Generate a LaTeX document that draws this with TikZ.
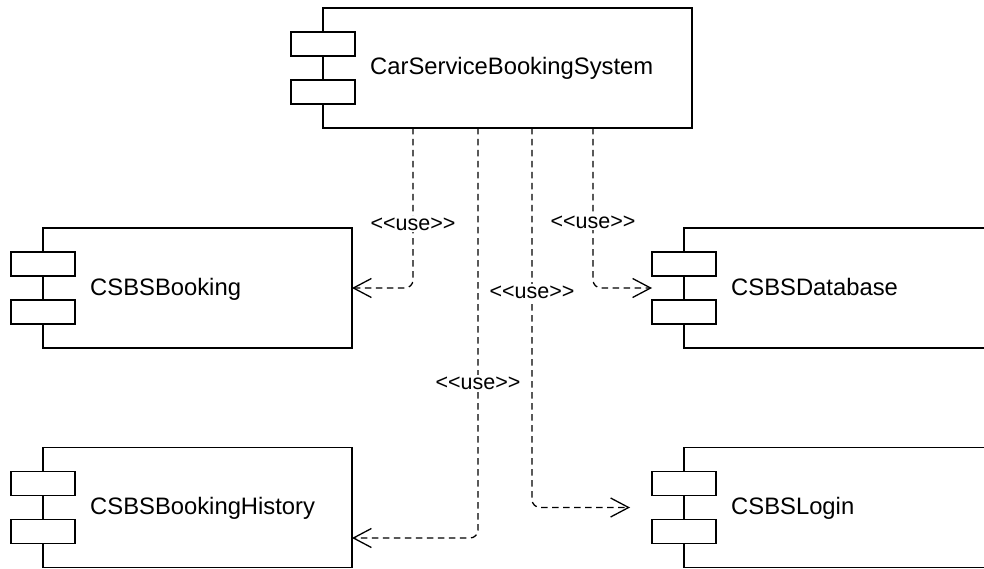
\documentclass[tikz,border=0pt]{standalone}
\usepackage{fontspec}
\setmainfont{Liberation Sans}
\usetikzlibrary{calc,arrows.meta}

\tikzset{
  compbox/.style={draw, line width=1.5pt, minimum width=309pt, minimum height=120pt,
    inner sep=0pt, outer sep=0pt},
  portbox/.style={draw, fill=white, line width=1.5pt, minimum width=64pt,
    minimum height=24pt, inner sep=0pt, outer sep=0pt},
  complabel/.style={anchor=base west, inner sep=0pt, font=\fontsize{23.8}{28}\selectfont},
  uselabel/.style={fill=white, inner sep=1.5pt, font=\fontsize{21.5}{24}\selectfont},
  dep/.style={draw, line width=1.3pt, dash pattern=on 6.5pt off 4.5pt,
    rounded corners=8pt, -{Straight Barb[length=18pt,width=19pt,line width=1.3pt]}},
}

% a UML component: box, two ports on the left edge, name
\newcommand{\umlcomp}[5][309pt]{%
  \node[compbox, minimum width=#1] (#2) at (#3) {};
  \node[portbox] (#2-p1) at ($(#2.west)+(0,-24)$) {};
  \node[portbox] (#2-p2) at ($(#2.west)+(0,24)$) {};
  \node[complabel] (#2-name) at ($(#2.west)+(47,7)$) {#5};
}

\begin{document}
\begin{tikzpicture}[x=1pt, y=-1pt]
  \useasboundingbox (0,0) rectangle (984,569);
  \clip (0,0) rectangle (984,569);

  \umlcomp[369pt]{sys}{507.5,68}{}{CarServiceBookingSystem}
  \umlcomp{booking}{197.5,288}{}{CSBSBooking}
  \umlcomp{history}{197.5,507.5}{}{CSBSBookingHistory}
  \umlcomp{db}{838.5,288}{}{CSBSDatabase}
  \umlcomp{login}{838.5,507.5}{}{CSBSLogin}

  \coordinate (loginin) at ($(login.west)+(-54,0)$);

  % dependencies
  \draw[dep] ($(sys.south)+(-94.5,0)$) |- (booking.east);
  \draw[dep] ($(sys.south)+(-29.5,0)$) |- ($(history.east)+(0,30.5)$);
  \draw[dep] ($(sys.south)+(24.5,0)$) |- (loginin);
  \draw[dep] ($(sys.south)+(85.5,0)$) |- (db-p1.west |- db.west);

  % stereotype labels
  \node[uselabel] (u1) at (413,224) {<{}<use>{}>};
  \node[uselabel] (u2) at (478,383) {<{}<use>{}>};
  \node[uselabel] (u3) at (532,292) {<{}<use>{}>};
  \node[uselabel] (u4) at (593,222) {<{}<use>{}>};
\end{tikzpicture}
\end{document}
